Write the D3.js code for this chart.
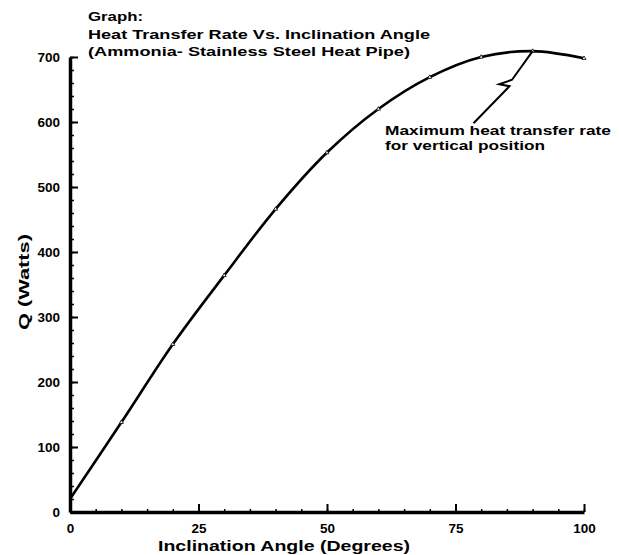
<!DOCTYPE html>
<html>
<head>
<meta charset="utf-8">
<script src="https://cdn.jsdelivr.net/npm/d3@7"></script>
<style>
  html, body { margin: 0; padding: 0; background: #fff; }
  svg { display: block; }
  text { font-family: "Liberation Sans", Arial, Helvetica, sans-serif; fill: #000; }
</style>
</head>
<body>
<svg id="chart" width="619" height="555"></svg>
<script>
// Measured heat transfer rate of the ammonia / stainless steel heat pipe
const angles = [0, 10, 20, 30, 40, 50, 60, 70, 80, 90, 100];          // degrees
const heatRate = [20, 138, 258, 364, 466, 553, 620, 669, 700, 709, 698]; // watts

const xTicks = [0, 25, 50, 75, 100];
const yTicks = [0, 100, 200, 300, 400, 500, 600, 700];
const xMinor = d3.range(0, 101, 5);
const yMinor = d3.range(0, 701, 20);

const titleLines = [
  "Graph:",
  "Heat Transfer Rate Vs. Inclination Angle",
  "(Ammonia- Stainless Steel Heat Pipe)"
];
const noteLines = ["Maximum heat transfer rate", "for vertical position"];

const svg = d3.select("#chart");

const x = d3.scaleLinear().domain([0, 100]).range([70, 584]);
const y = d3.scaleLinear().domain([0, 700]).range([512, 57]);

// minor ticks
svg.append("g")
  .attr("transform", `translate(${x(0)},0)`)
  .call(d3.axisLeft(y).tickValues(yMinor).tickSize(-4).tickFormat(""))
  .call(g => g.select(".domain").remove())
  .call(g => g.selectAll("line").attr("stroke-width", 1.5));

svg.append("g")
  .attr("transform", `translate(0,${y(0)})`)
  .call(d3.axisBottom(x).tickValues(xMinor).tickSize(-3).tickFormat(""))
  .call(g => g.select(".domain").remove())
  .call(g => g.selectAll("line").attr("stroke-width", 1.5));

// major axes
const yAxis = svg.append("g")
  .attr("transform", `translate(${x(0)},0)`)
  .call(d3.axisLeft(y).tickValues(yTicks).tickSizeInner(-8).tickSizeOuter(0).tickPadding(10));
yAxis.select(".domain").attr("stroke-width", 3.5);
yAxis.selectAll("line").attr("stroke-width", 2);
yAxis.selectAll("text")
  .style("font-size", "13.5px").style("font-weight", "bold");

const xAxis = svg.append("g")
  .attr("transform", `translate(0,${y(0)})`)
  .call(d3.axisBottom(x).tickValues(xTicks).tickSizeInner(-8).tickSizeOuter(0).tickPadding(11));
xAxis.select(".domain").attr("stroke-width", 3.5);
xAxis.selectAll("line").attr("stroke-width", 2);
xAxis.selectAll("text")
  .style("font-size", "13.5px").style("font-weight", "bold");

// curve
const pts = angles.map((a, i) => ({ a, q: heatRate[i] }));
svg.append("path")
  .datum(pts)
  .attr("fill", "none")
  .attr("stroke", "#000")
  .attr("stroke-width", 2.6)
  .attr("d", d3.line().x(d => x(d.a)).y(d => y(d.q)).curve(d3.curveCatmullRom.alpha(0.5)));

// data markers
svg.append("g").selectAll("path")
  .data(pts.slice(1))
  .join("path")
  .attr("transform", d => `translate(${x(d.a)},${y(d.q)})`)
  .attr("d", d3.symbol(d3.symbolTriangle, 7))
  .attr("fill", "#fff")
  .attr("stroke", "#000")
  .attr("stroke-width", 0.8);

// annotation leader to the maximum at 90 degrees
const peak = pts[heatRate.indexOf(d3.max(heatRate))];
const leader = [[peak.a, peak.q], [86, 665], [83.5, 658], [85.5, 655], [78.5, 598]];
svg.append("path")
  .attr("fill", "none")
  .attr("stroke", "#000")
  .attr("stroke-width", 2)
  .attr("d", d3.line().x(d => x(d[0])).y(d => y(d[1]))(leader));

const note = svg.append("text")
  .style("font-size", "12.5px").style("font-weight", "bold");
note.selectAll("tspan")
  .data(noteLines)
  .join("tspan")
  .attr("x", 385)
  .attr("y", (d, i) => 135 + i * 15)
  .attr("textLength", (d, i) => i === 0 ? 226 : 160)
  .attr("lengthAdjust", "spacingAndGlyphs")
  .text(d => d);

// title
const title = svg.append("text")
  .style("font-size", "13px").style("font-weight", "bold");
title.selectAll("tspan")
  .data(titleLines)
  .join("tspan")
  .attr("x", 88)
  .attr("y", (d, i) => [21, 39, 56][i])
  .attr("textLength", (d, i) => [55, 342, 322][i])
  .attr("lengthAdjust", "spacingAndGlyphs")
  .text(d => d);

// axis titles
svg.append("text")
  .attr("transform", "translate(29,282) rotate(-90)")
  .attr("text-anchor", "middle")
  .attr("textLength", 96)
  .attr("lengthAdjust", "spacingAndGlyphs")
  .style("font-size", "15px").style("font-weight", "bold")
  .text("Q (Watts)");

svg.append("text")
  .attr("x", 284)
  .attr("y", 551)
  .attr("text-anchor", "middle")
  .attr("textLength", 252)
  .attr("lengthAdjust", "spacingAndGlyphs")
  .style("font-size", "15px").style("font-weight", "bold")
  .text("Inclination Angle (Degrees)");
</script>
</body>
</html>
